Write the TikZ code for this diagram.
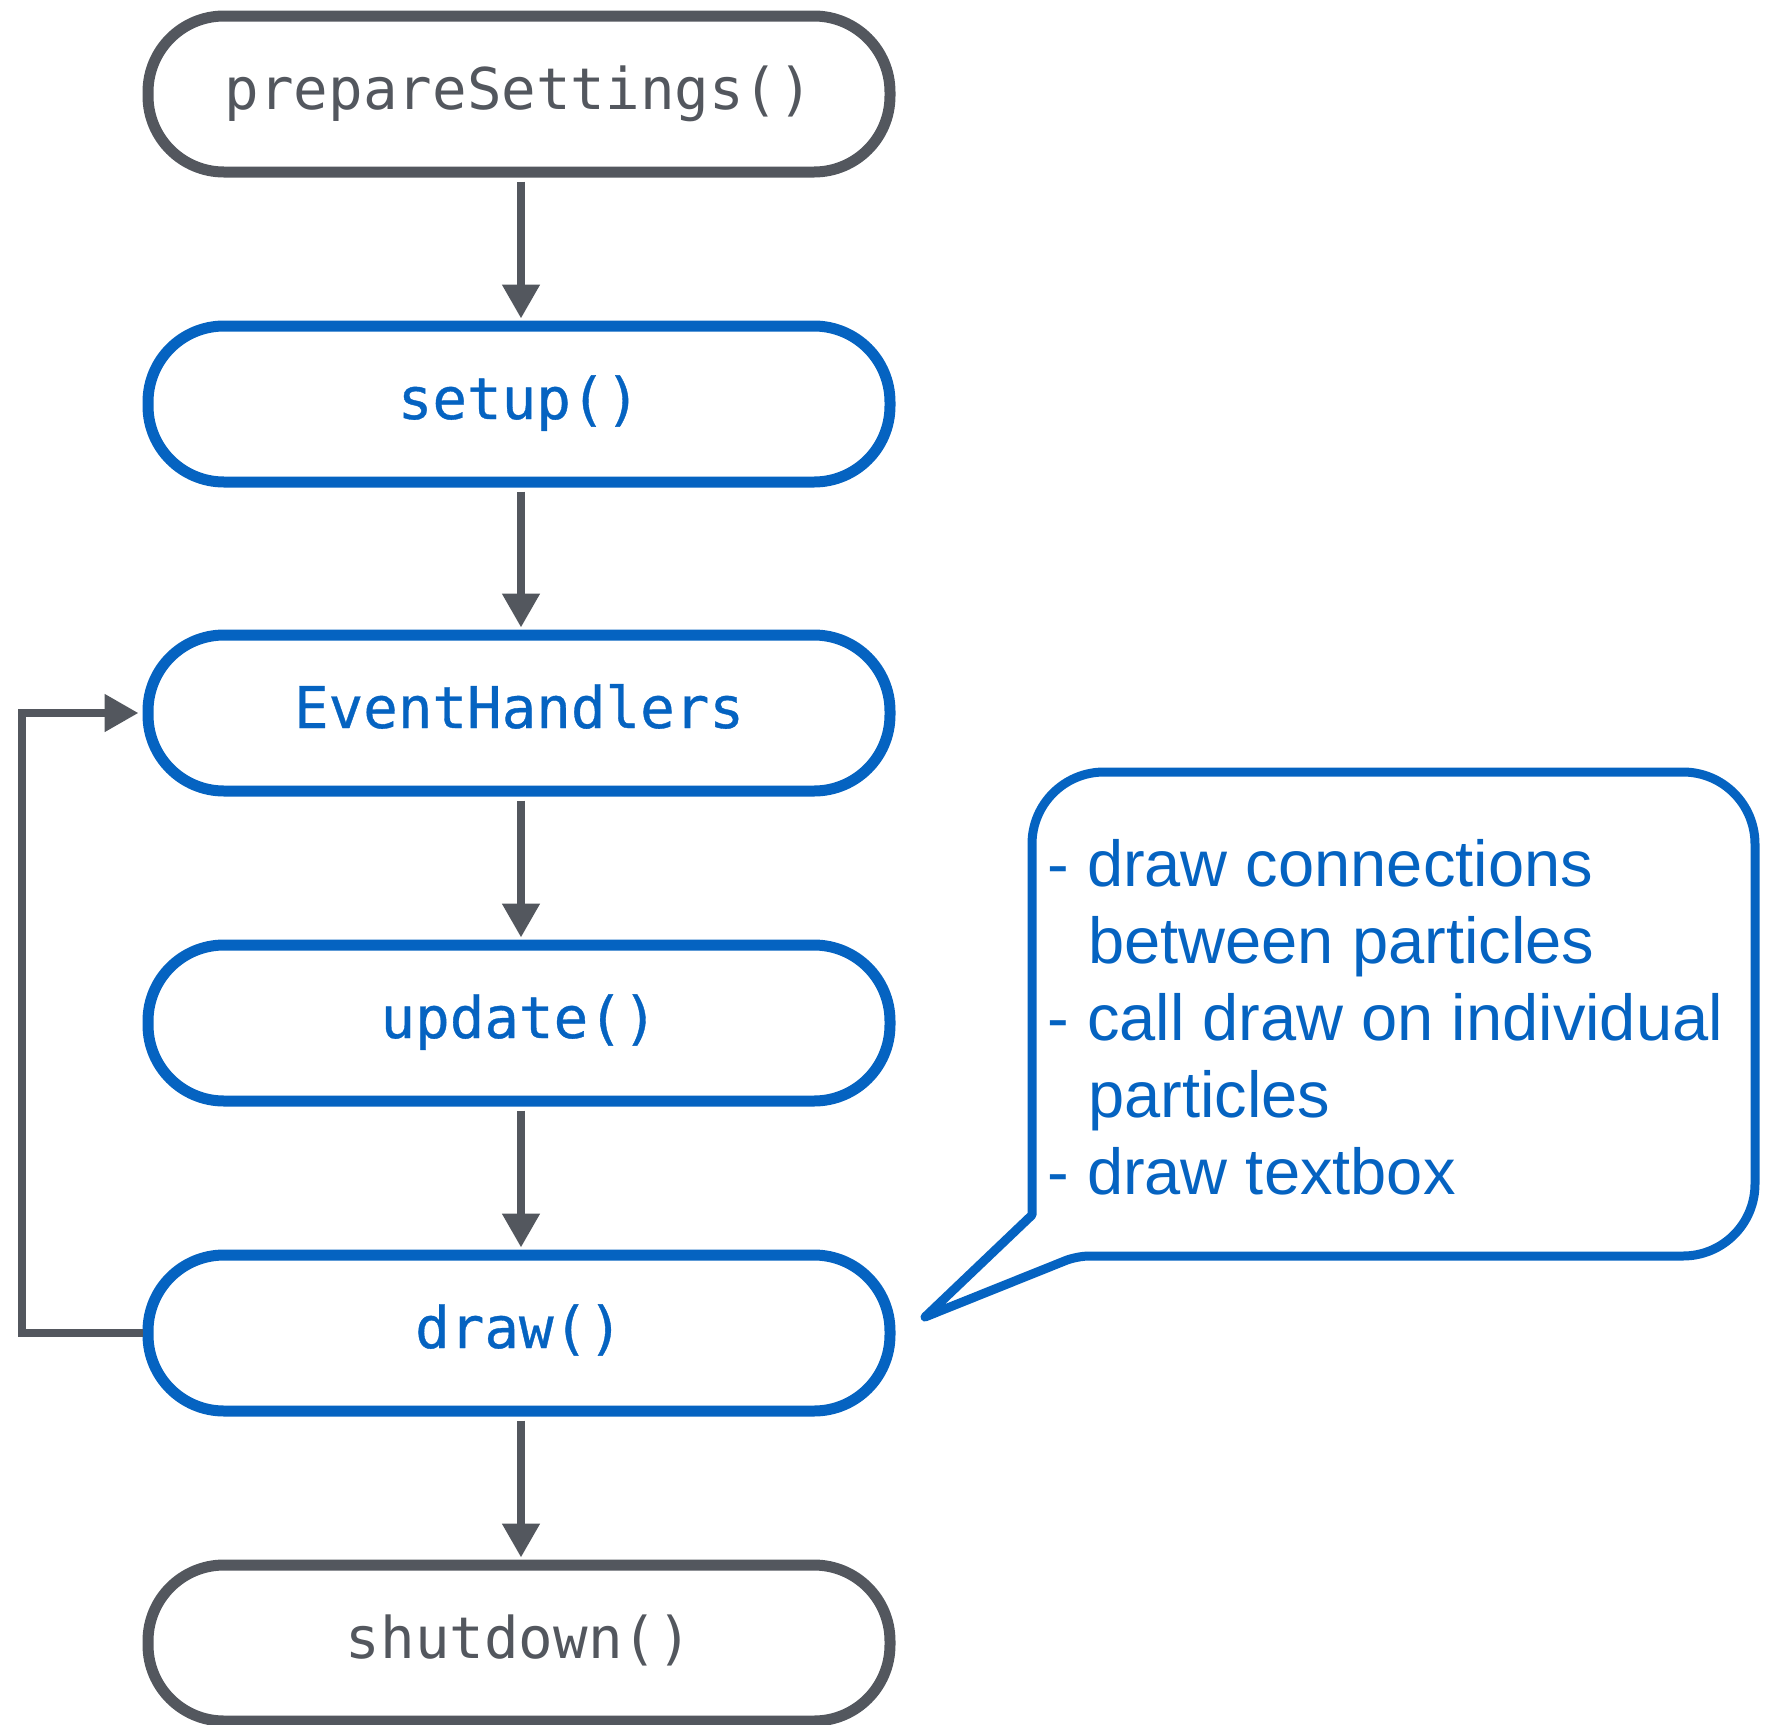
\documentclass[tikz,border=0pt]{standalone}
\usepackage{fontspec}
\setmonofont{DejaVu Sans Mono}
\setsansfont{Liberation Sans}
\newfontfamily\stagemono{DejaVu Sans Mono}[FakeBold=0.6]
\usetikzlibrary{arrows.meta}

\definecolor{flowgray}{HTML}{53575E}
\definecolor{flowblue}{HTML}{0563C1}

\tikzset{
  stage/.style={draw, line width=5.5pt, rounded corners=38pt,
    minimum width=371pt, minimum height=78pt, inner sep=0pt, fill=white,
    text height=21pt, text depth=6pt},
  graystage/.style={stage, draw=flowgray, text=flowgray,
    font=\ttfamily\fontsize{28.75}{34}\selectfont},
  bluestage/.style={stage, draw=flowblue, text=flowblue,
    font=\stagemono\fontsize{28.75}{34}\selectfont},
  flow/.style={draw=flowgray, line width=4pt,
    -{Triangle[length=17pt, width=18pt]}, shorten <=2pt, shorten >=1pt},
  bubble/.style={draw=flowblue, line width=4.5pt, line join=round},
  notetext/.style={anchor=base west, inner sep=0pt, text=flowblue,
    font=\sffamily\fontsize{32.5}{38.5}\selectfont}
}

\begin{document}
\begin{tikzpicture}[x=0.5pt, y=-0.5pt]
  \useasboundingbox (0,0) rectangle (1774,1725);

  % main sequence of stages
  \node[graystage] (prep)     at (519,94)   {prepareSettings()};
  \node[bluestage] (setup)    at (519,404)  {setup()};
  \node[bluestage] (events)   at (519,713)  {EventHandlers};
  \node[bluestage] (update)   at (519,1023) {update()};
  \node[bluestage] (drawn)    at (519,1333) {draw()};
  \node[graystage] (shutdown) at (519,1643) {shutdown()};

  % straight-down connectors
  \draw[flow] ([xshift=1pt]prep.south)   -- ([xshift=1pt]setup.north);
  \draw[flow] ([xshift=1pt]setup.south)  -- ([xshift=1pt]events.north);
  \draw[flow] ([xshift=1pt]events.south) -- ([xshift=1pt]update.north);
  \draw[flow] ([xshift=1pt]update.south) -- ([xshift=1pt]drawn.north);
  \draw[flow] ([xshift=1pt]drawn.south)  -- ([xshift=1pt]shutdown.north);

  % loop back from draw() to the event handlers
  \coordinate (loopx) at (22,0);
  \draw[flow, shorten <=0pt, shorten >=2pt]
    (drawn.west) -- (drawn.west -| loopx) |- (events.west);

  % speech bubble with notes on draw()
  \coordinate (tailtip) at (925,1317);
  \draw[bubble] (1032,1215) [rounded corners=36pt] -- (1032,772) -- (1755,772)
    -- (1755,1256) [rounded corners=6pt] -- (1077,1256) [sharp corners] -- (tailtip) -- cycle;

  \node[notetext] (n1) at (1047,886)  {- draw connections};
  \node[notetext] (n2) at (1088,963)  {between particles};
  \node[notetext] (n3) at (1047,1040) {- call draw on individual};
  \node[notetext] (n4) at (1088,1117) {particles};
  \node[notetext] (n5) at (1047,1194) {- draw textbox};
\end{tikzpicture}
\end{document}
